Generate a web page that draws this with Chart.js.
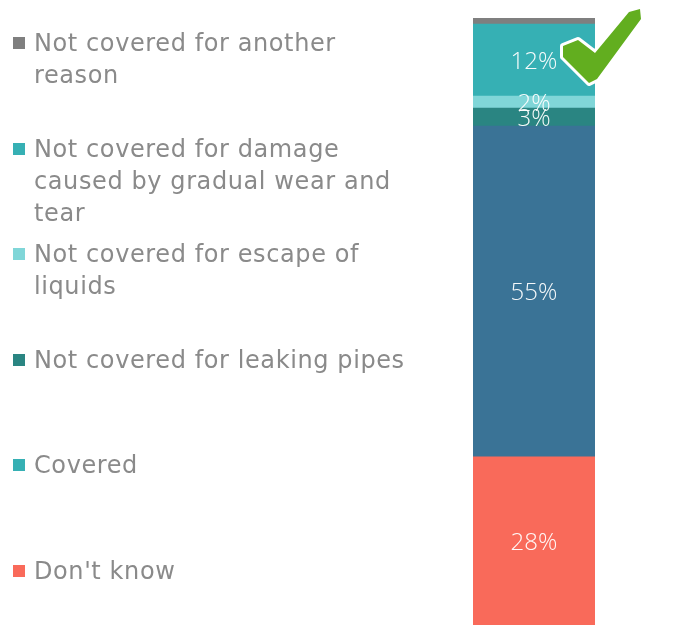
<!DOCTYPE html>
<html>
<head>
<meta charset="utf-8">
<script src="https://cdn.jsdelivr.net/npm/chart.js"></script>
<style>
  html, body { margin: 0; padding: 0; background: #fff; }
  #wrap { position: relative; width: 679px; height: 625px; overflow: hidden; }
  #chartBox { position: absolute; left: 0; top: 0; width: 679px; height: 625px; }
  #legend { position: absolute; left: 0; top: 27px; width: 460px; }
  .item { position: relative; height: 105.6px; }
  .sw { position: absolute; left: 13px; top: 10px; width: 12px; height: 12px; }
  .txt {
    position: absolute; left: 34px; top: 0;
    font-family: "DejaVu Sans", sans-serif; font-size: 24px; line-height: 32px;
    letter-spacing: 0.6px; color: #8a8a8a; white-space: nowrap;
  }
</style>
</head>
<body>
<div id="wrap">
  <div id="chartBox"><canvas id="coverChart"></canvas></div>
  <div id="legend"></div>
</div>
<script>
/* single stacked bar, bottom to top */
const seriesNames = [
  "Don't know",
  "Covered",
  "Not covered for leaking pipes",
  "Not covered for escape of liquids",
  "Not covered for damage caused by gradual wear and tear",
  "Not covered for another reason"
];
const seriesValues = [28, 55, 3, 2, 12, 1];
const seriesColors = ["#f96a5a", "#3a7396", "#2a8582", "#80d6d8", "#36b0b4", "#7f7f7f"];

// legend as in the picture, top to bottom (swatch for "Covered" is teal there)
const legendLines = [
  ["Not covered for another", "reason"],
  ["Not covered for damage", "caused by gradual wear and", "tear"],
  ["Not covered for escape of", "liquids"],
  ["Not covered for leaking pipes"],
  ["Covered"],
  ["Don't know"]
];
const legendColors = ["#7f7f7f", "#36b0b4", "#80d6d8", "#2a8582", "#36b0b4", "#f96a5a"];

function buildLegend() {
  const box = document.getElementById("legend");
  legendLines.forEach(function (lines, i) {
    const item = document.createElement("div");
    item.className = "item";
    item.innerHTML =
      '<div class="sw" style="background:' + legendColors[i] + '"></div>' +
      '<div class="txt">' + lines.join("<br>") + "</div>";
    box.appendChild(item);
  });
}

const valueLabels = {
  id: "valueLabels",
  afterDatasetsDraw(chart) {
    const ctx = chart.ctx;
    ctx.save();
    ctx.fillStyle = "rgba(255,255,255,0.95)";
    ctx.font = "300 24px 'Open Sans', sans-serif";
    ctx.textAlign = "center";
    ctx.textBaseline = "middle";
    chart.data.datasets.forEach(function (ds, i) {
      if (i === 5) return; // top sliver has no label
      const bar = chart.getDatasetMeta(i).data[0];
      const mid = (bar.y + bar.base) / 2;
      ctx.fillText(ds.data[0] + "%", bar.x, mid + 2);
    });
    ctx.restore();
  }
};

// green tick next to the bar
const tickMark = {
  id: "tickMark",
  afterDraw(chart) {
    const ctx = chart.ctx;
    ctx.save();
    ctx.beginPath();
    ctx.moveTo(563, 46);
    ctx.lineTo(578, 40);
    ctx.lineTo(595, 53);
    ctx.lineTo(629, 12);
    ctx.lineTo(640, 9);
    ctx.lineTo(641, 19);
    ctx.lineTo(597, 79);
    ctx.lineTo(589, 83);
    ctx.lineTo(563, 57);
    ctx.closePath();
    ctx.lineJoin = "round";
    ctx.lineWidth = 6;
    ctx.strokeStyle = "#ffffff";
    ctx.stroke();
    ctx.fillStyle = "#62ae1f";
    ctx.fill();
    ctx.restore();
  }
};

function render() {
  const datasets = seriesNames.map(function (name, i) {
    return {
      label: name,
      data: [seriesValues[i]],
      backgroundColor: seriesColors[i],
      borderWidth: 0,
      barPercentage: 1,
      categoryPercentage: 1
    };
  });

  new Chart(document.getElementById("coverChart"), {
    type: "bar",
    data: { labels: [""], datasets },
    options: {
      responsive: true,
      maintainAspectRatio: false,
      animation: false,
      layout: { padding: { left: 473, right: 84, top: 18, bottom: 0 } },
      plugins: { legend: { display: false }, tooltip: { enabled: false } },
      scales: {
        x: { stacked: true, display: false },
        y: { stacked: true, display: false, min: 0, max: 101 }
      }
    },
    plugins: [valueLabels, tickMark]
  });
}

buildLegend();
render();
</script>
</body>
</html>
